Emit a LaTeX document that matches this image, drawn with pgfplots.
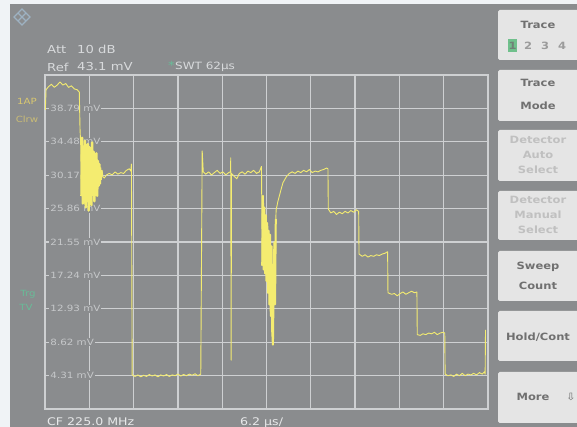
\documentclass[border=0pt]{standalone}
\usepackage{pgfplots}
\pgfplotsset{compat=1.18}
\usepackage{fontspec}
\setmainfont{DejaVu Sans}
\newfontfamily\scr[FakeStretch=1.2]{DejaVu Sans}
\newfontfamily\btn[FakeStretch=1.15]{DejaVu Sans}

\definecolor{pagebg}{RGB}{240,243,246}
\definecolor{screen}{RGB}{138,140,142}
\definecolor{gridc}{RGB}{206,208,210}
\definecolor{labc}{RGB}{198,200,202}
\definecolor{hdrc}{RGB}{216,218,220}
\definecolor{trace}{RGB}{244,236,112}
\definecolor{softkey}{RGB}{229,229,229}
\definecolor{keytxt}{RGB}{112,112,112}
\definecolor{keyoff}{RGB}{192,192,192}
\definecolor{trg}{RGB}{104,188,152}
\definecolor{apc}{RGB}{218,200,112}
\definecolor{logoc}{RGB}{158,178,194}
\definecolor{selc}{RGB}{112,192,140}

% trace 1: time in microseconds, level in mV
\pgfplotstableread{
t v
0.05 38.6
0.15 41.2
0.5 41.6
0.9 41.9
1.3 41.5
1.7 41.8
2.1 42.2
2.5 41.8
2.9 42.0
3.3 41.5
3.7 41.7
4.1 41.3
4.5 41.2
4.8 40.9
4.9 36.2
5.0 34.0
5.1 27.5
5.2 35.0
5.3 26.5
5.4 33.5
5.5 28.0
5.6 34.6
5.7 26.0
5.8 33.0
5.9 27.2
6.0 34.2
6.1 25.6
6.2 33.8
6.3 27.0
6.4 32.9
6.5 26.3
6.6 34.4
6.7 27.8
6.8 33.2
6.9 26.8
7.0 32.5
7.1 28.2
7.2 33.0
7.3 27.5
7.4 32.0
7.5 28.8
7.6 31.6
7.7 29.0
7.8 31.2
7.9 29.6
8.0 30.8
8.1 30.0
8.3 29.8
8.6 30.2
9.0 30.4
9.4 30.2
9.8 30.6
10.2 30.3
10.6 30.5
11.0 30.4
11.4 30.8
11.8 31.0
12.0 30.7
12.1 31.6
12.2 4.4
12.6 4.2
13.0 4.4
13.4 4.15
13.8 4.35
14.2 4.2
14.6 4.45
15.0 4.25
15.4 4.4
15.8 4.15
16.2 4.4
16.6 4.25
17.0 4.45
17.4 4.2
17.8 4.4
18.2 4.3
18.6 4.5
19.0 4.25
19.4 4.45
19.8 4.3
20.2 4.5
20.6 4.35
21.0 4.55
21.4 4.3
21.8 4.5
22.0 33.3
22.15 30.6
22.5 30.3
22.9 30.6
23.3 30.2
23.7 30.5
24.1 30.8
24.5 30.4
24.9 30.6
25.3 30.2
25.7 30.5
25.95 30.6
26.0 32.4
26.05 6.3
26.1 30.4
26.5 30.0
26.85 29.7
27.2 30.4
27.6 30.6
28.0 30.3
28.4 30.7
28.8 30.5
29.2 30.8
29.6 30.4
30.0 30.6
30.3 31.3
30.4 18.5
30.5 27.5
30.6 18.0
30.7 26.0
30.8 17.5
30.9 25.0
31.0 16.5
31.1 24.0
31.2 15.0
31.3 23.0
31.4 13.5
31.5 22.5
31.6 12.0
31.7 21.0
31.8 10.0
31.9 8.3
32.0 16.0
32.1 21.5
32.2 13.5
32.3 24.5
32.35 25.7
32.6 26.8
33.0 28.2
33.3 29.2
33.8 30.0
34.2 30.4
34.6 30.6
35.0 30.4
35.4 30.7
35.8 30.5
36.2 30.8
36.6 30.6
37.0 30.9
37.4 30.5
37.8 30.7
38.2 30.6
38.6 30.8
39.0 30.9
39.4 31.1
39.6 31.0
39.65 25.8
40.0 25.3
40.4 25.5
40.8 25.1
41.2 25.4
41.6 25.2
42.0 25.5
42.4 25.3
42.8 25.6
43.2 25.4
43.6 25.7
43.9 25.5
43.95 20.0
44.4 19.7
44.8 19.9
45.2 19.6
45.6 19.8
46.0 19.7
46.4 19.9
46.8 19.8
47.2 20.0
47.6 20.1
47.95 20.3
48.0 15.0
48.5 14.8
48.9 14.9
49.3 14.6
49.7 14.9
50.1 15.1
50.5 14.8
50.9 15.0
51.3 15.2
51.7 15.0
52.05 15.1
52.1 9.6
52.5 9.5
52.9 9.7
53.3 9.6
53.7 9.8
54.1 9.7
54.5 9.9
54.9 9.6
55.3 9.8
55.7 9.9
55.95 9.8
56.0 4.5
56.4 4.3
56.8 4.4
57.2 4.2
57.6 4.5
58.0 4.3
58.4 4.6
58.8 4.3
59.2 4.5
59.6 4.4
60.0 4.6
60.4 4.4
60.8 4.7
61.2 4.5
61.5 4.8
61.6 4.5
61.65 10.2
}\traceone

\begin{document}
\begin{tikzpicture}[x=1pt,y=1pt,
  hdr/.style={text=hdrc,font=\scr\fontsize{11}{12}\selectfont,inner sep=0pt},
  key/.style={text=keytxt,font=\btn\bfseries\fontsize{10}{11}\selectfont,inner sep=0pt},
  keyoff/.style={key,text=keyoff},
  lab/.style={anchor=west,fill=screen,text=labc,inner sep=1pt,
    font=\scr\fontsize{8.6}{9}\selectfont}]
\useasboundingbox (0,0) rectangle (577,427);
\fill[pagebg] (0,0) rectangle (577,427);
\fill[screen] (10,0) rectangle (577,423);

% instrument logo
\begin{scope}[logoc,line width=1.2pt]
  \draw (22,402) -- (30,410) -- (22,418) -- (14,410) -- cycle;
  \draw (18,406) -- (26,414) (18,414) -- (26,406);
\end{scope}

% header
\node[hdr,anchor=west] at (47,378) {Att};
\node[hdr,anchor=west] at (77,378) {10 dB};
\node[hdr,anchor=west] at (47,360) {Ref};
\node[hdr,anchor=west] at (77,360) {43.1 mV};
\node[hdr,anchor=west,text=trg] at (168,362) {*};
\node[hdr,anchor=west,font=\scr\fontsize{10}{11}\selectfont] at (175,360) {SWT 62µs};

% side annotations
\node[text=apc,font=\scr\fontsize{8.5}{9}\selectfont,inner sep=0pt] at (27,326) {1AP};
\node[text=apc!80!screen,font=\scr\fontsize{8.5}{9}\selectfont,inner sep=0pt] at (27,308) {Clrw};
\node[text=trg,font=\scr\fontsize{8.5}{9}\selectfont,inner sep=0pt] at (28,133) {Trg};
\node[text=trg,font=\scr\fontsize{8.5}{9}\selectfont,inner sep=0pt] at (26,120) {TV};

% footer
\node[text=hdrc!60!white,font=\scr\fontsize{10.5}{11}\selectfont,anchor=base west,inner sep=0pt] at (47,1) {CF 225.0 MHz};
\node[text=hdrc!60!white,font=\scr\fontsize{10.5}{11}\selectfont,anchor=base west,inner sep=0pt] at (240,1) {6.2 µs/};

% softkeys
\foreach \lo/\hi in {367/417,306/357,246/297,187/236,126/176,66/116,4/55}
  \fill[softkey,rounded corners=1.5pt] (498,\lo) rectangle (580,\hi);
\node[key] at (538,402) {Trace};
\fill[selc] (508,375) rectangle (517,388);
\node[key,text=keytxt!80!selc] at (512.5,381.5) {1};
\node[key,text=keytxt!70!white] at (528,381.5) {2};
\node[key,text=keytxt!70!white] at (545,381.5) {3};
\node[key,text=keytxt!70!white] at (562,381.5) {4};
\node[key] at (538,344) {Trace};
\node[key] at (538,321) {Mode};
\node[keyoff] at (538,287) {Detector};
\node[keyoff] at (538,272) {Auto};
\node[keyoff] at (538,257) {Select};
\node[keyoff] at (538,227) {Detector};
\node[keyoff] at (538,212) {Manual};
\node[keyoff] at (538,197) {Select};
\node[key] at (538,160) {Sweep};
\node[key] at (538,141) {Count};
\node[key] at (538,90) {Hold/Cont};
\node[key] at (533,30) {More};
\node[key,font=\btn\fontsize{10}{11}\selectfont] at (571,30) {⇩};

\begin{axis}[
  at={(45pt,18pt)}, anchor=south west,
  scale only axis, width=443pt, height=334pt,
  xmin=0, xmax=62, ymin=0, ymax=43.1,
  xtick={6.2,12.4,18.6,24.8,31,37.2,43.4,49.6,55.8},
  ytick={4.31,8.62,12.93,17.24,21.55,25.86,30.17,34.48,38.79},
  xticklabels={}, yticklabels={},
  major tick length=0pt,
  grid=major,
  major grid style={gridc,line width=1.3pt},
  axis line style={gridc,line width=1.3pt},
  axis background/.style={fill=screen},
]
\node[lab] at (axis cs:0.6,38.79) {38.79 mV};
\node[lab] at (axis cs:0.6,34.48) {34.48 mV};
\node[lab] at (axis cs:0.6,30.17) {30.17 mV};
\node[lab] at (axis cs:0.6,25.86) {25.86 mV};
\node[lab] at (axis cs:0.6,21.55) {21.55 mV};
\node[lab] at (axis cs:0.6,17.24) {17.24 mV};
\node[lab] at (axis cs:0.6,12.93) {12.93 mV};
\node[lab] at (axis cs:0.6,8.62) {8.62 mV};
\node[lab] at (axis cs:0.6,4.31) {4.31 mV};
\addplot[trace,line width=0.9pt,line join=round,no marks] table[x=t,y=v] {\traceone};
% the burst and the notch are dense enough to show as solid bands
\addplot[trace,line width=2.4pt,line join=round,no marks,forget plot,
  restrict x to domain=5.05:7.7] table[x=t,y=v] {\traceone};
\addplot[trace,line width=2pt,line join=round,no marks,forget plot,
  restrict x to domain=30.35:32.3] table[x=t,y=v] {\traceone};
\end{axis}
\end{tikzpicture}
\end{document}
